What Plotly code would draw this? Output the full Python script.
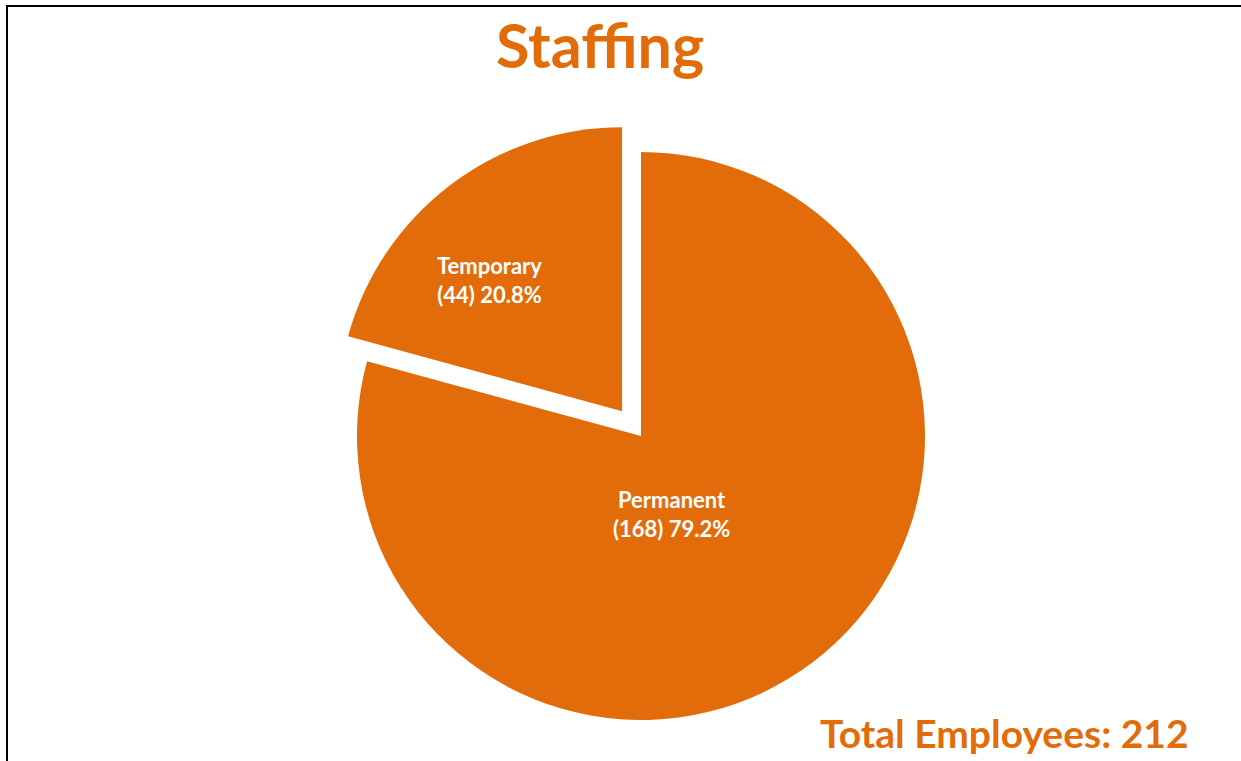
import plotly.graph_objects as go

# Staffing breakdown
categories = ["Permanent", "Temporary"]
headcount = [168, 44]
percent_labels = ["79.2%", "20.8%"]
title_text = "Staffing"
total_text = "Total Employees: 212"

ORANGE = "#E36C0A"
FONT = "Lato"

W, H = 1241, 761

# pie geometry (pixels)
cx, cy, radius, pull = 641, 436, 284, 0.11
half = radius * (1 + pull)

# slice label anchor points (pixels), one per category
label_pos = {"Permanent": (671, 514), "Temporary": (489, 280)}

fig = go.Figure(
    go.Pie(
        labels=categories,
        values=headcount,
        textinfo="none",
        marker=dict(colors=[ORANGE, ORANGE], line=dict(width=0)),
        pull=[0, pull],
        sort=False,
        direction="clockwise",
        rotation=0,
        hoverinfo="label+value+percent",
        showlegend=False,
        domain=dict(
            x=[(cx - half) / W, (cx + half) / W],
            y=[(H - (cy + half)) / H, (H - (cy - half)) / H],
        ),
    )
)

for c, n, p in zip(categories, headcount, percent_labels):
    lx, ly = label_pos[c]
    fig.add_annotation(
        text=f"{c}<br>({n}) {p}", x=lx / W, y=1 - ly / H,
        xref="paper", yref="paper", xanchor="center", yanchor="middle",
        showarrow=False, align="center",
        font=dict(family=FONT, size=22, color="white", weight="bold"),
    )

fig.add_annotation(
    text=title_text, x=600 / W, y=1 - 45 / H, xref="paper", yref="paper",
    xanchor="center", yanchor="middle", showarrow=False,
    font=dict(family=FONT, size=61, color=ORANGE, weight="bold"),
)
fig.add_annotation(
    text=total_text, x=1191 / W, y=1 - 733 / H, xref="paper", yref="paper",
    xanchor="right", yanchor="middle", showarrow=False,
    font=dict(family=FONT, size=39, color=ORANGE, weight="bold"),
)

# frame around the chart area
fig.add_shape(
    type="rect", xref="paper", yref="paper",
    x0=7 / W, x1=1.05, y0=-0.05, y1=1 - 6 / H,
    line=dict(color="black", width=2),
)

fig.update_layout(
    width=W, height=H,
    margin=dict(l=0, r=0, t=0, b=0),
    paper_bgcolor="white", plot_bgcolor="white",
)

fig.write_html("out.html")
